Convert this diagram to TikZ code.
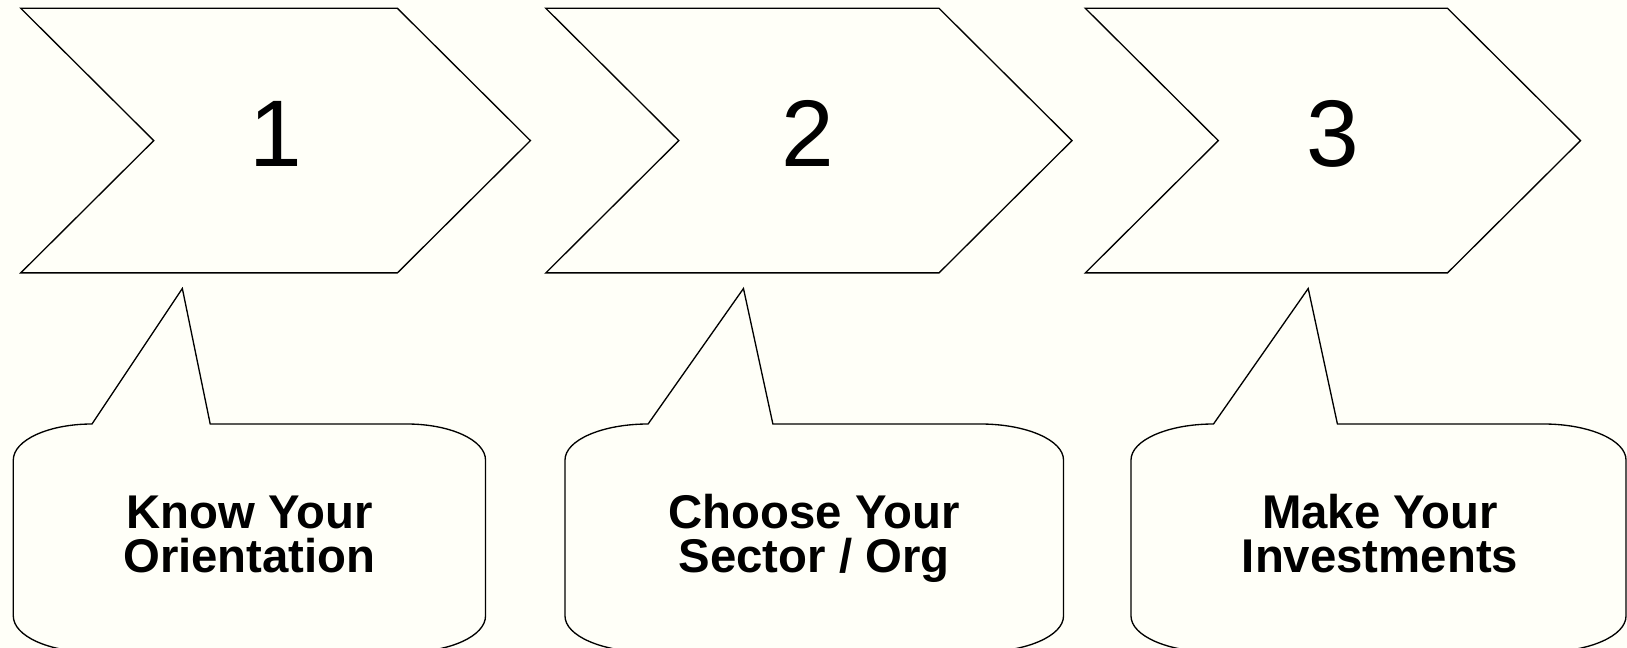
\documentclass[tikz,border=0pt]{standalone}
\usepackage{fontspec}
\setmainfont{Liberation Sans}
\usetikzlibrary{positioning,calc}
\definecolor{paper}{RGB}{255,255,248}
% chevron: left x, top-right x
\newcommand{\chevron}[2]{%
  \draw[outline] (#1,8.3) -- (#2,8.3) -- (#2+133,140.6) -- (#2,272.9)
    -- (#1,272.9) -- (#1+133,140.6) -- cycle;}
% callout: left x, right x
\newcommand{\callout}[2]{%
  \pgfmathsetmacro{\rx}{(#2-#1)/6}
  \pgfmathsetmacro{\tip}{#1+0.358*(#2-#1)}
  \pgfmathsetmacro{\wr}{#1+0.417*(#2-#1)}
  \draw[outline] (#1+\rx,424) -- (\tip,288.5) -- (\wr,424) -- (#2-\rx,424)
    .. controls (#2-0.448*\rx,424) and (#2,440.1) .. (#2,460)
    -- (#2,616)
    .. controls (#2,635.9) and (#2-0.448*\rx,652) .. (#2-\rx,652)
    -- (#1+\rx,652)
    .. controls (#1+0.448*\rx,652) and (#1,635.9) .. (#1,616)
    -- (#1,460)
    .. controls (#1,440.1) and (#1+0.448*\rx,424) .. cycle;}

\begin{document}
\begin{tikzpicture}[x=0.75pt,y=-0.75pt,
  outline/.style={draw=black,line width=1pt,fill=paper,line join=miter},
  stepnum/.style={font=\fontsize{71}{71}\selectfont,inner sep=0pt,anchor=base},
  bubbletext/.style={font=\bfseries\fontsize{35.5}{32.8}\selectfont,align=center,inner sep=0pt,anchor=base}]
\fill[paper] (0,0) rectangle (1627,648);
\useasboundingbox (0,0) rectangle (1627,648);
%
\chevron{20.75}{397.4}
\chevron{545.8}{939}
\chevron{1085.3}{1447.5}
\node[stepnum] (s1) at (276,167)   {1};
\node[stepnum] (s2) at (808.3,167) {2};
\node[stepnum] (s3) at (1332.8,167) {3};
%
\callout{13.3}{485.5}
\callout{565}{1063.5}
\callout{1131}{1626}
\node[bubbletext] (b1) at (249.4,572)  {Know Your\\Orientation};
\node[bubbletext] (b2) at (814.2,572)  {Choose Your\\Sector / Org};
\node[bubbletext] (b3) at (1380,572)   {Make Your\\Investments};
\end{tikzpicture}
\end{document}
